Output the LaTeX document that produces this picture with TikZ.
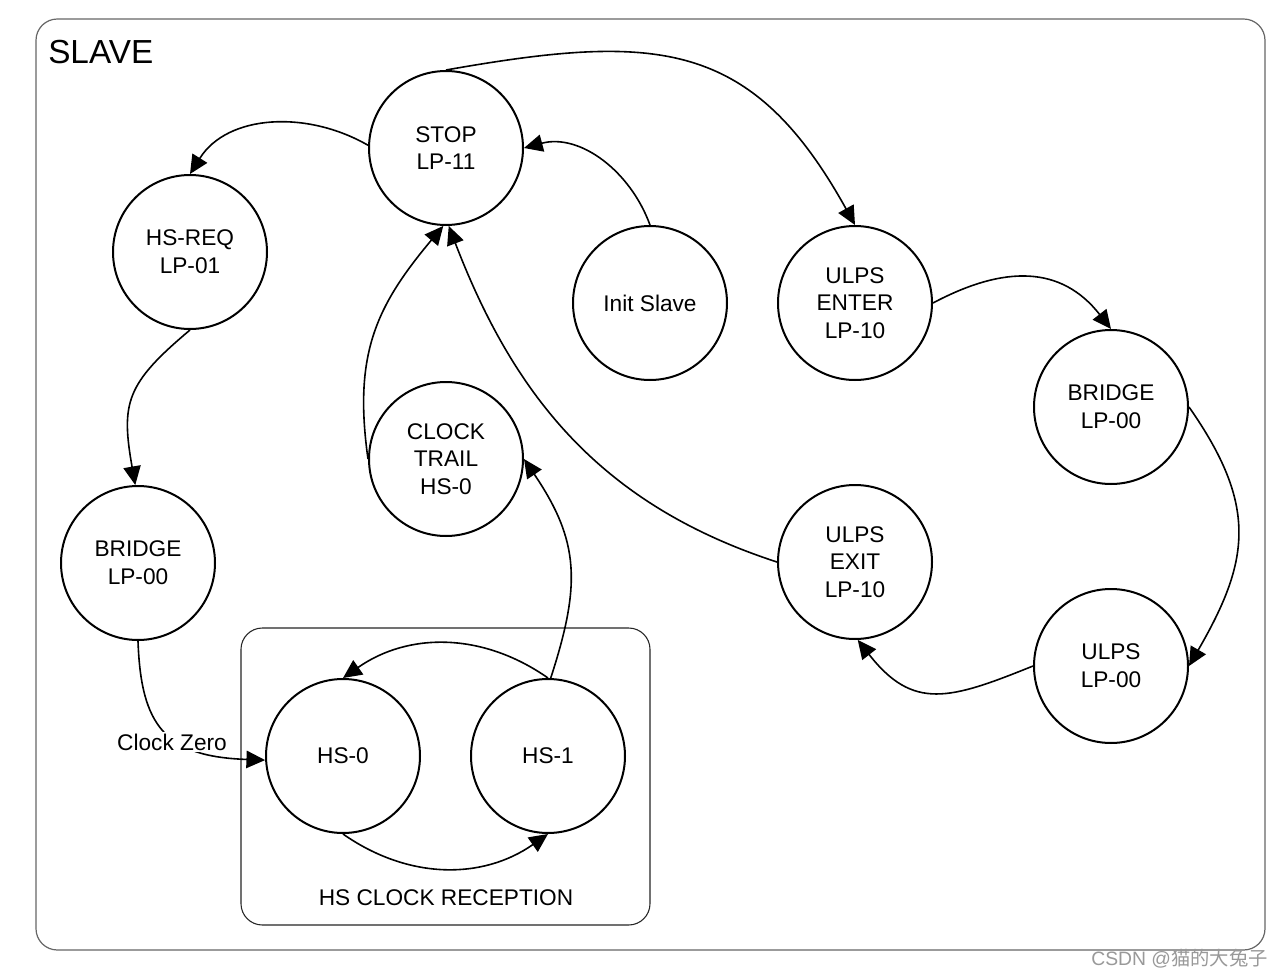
\documentclass[tikz,border=0pt]{standalone}
\usepackage{fontspec}
\setmainfont{Liberation Sans}
\newfontfamily\cjk{Noto Sans CJK SC}
\usetikzlibrary{arrows.meta}
\begin{document}
\begin{tikzpicture}[x=0.75pt,y=0.75pt,
  state/.style={draw, circle, line width=1.5pt, minimum size=115.5pt, inner sep=0pt, align=center, font=\fontsize{17}{20.8}\selectfont},
  trans/.style={line width=1.2pt, -{Triangle[length=14pt,width=13pt]}},
  lbl/.style={font=\fontsize{17}{20.8}\selectfont, inner sep=1pt},
  frame/.style={rounded corners=16pt}]
\useasboundingbox (0,0) rectangle (1283,-978);
\fill[white] (0,0) rectangle (1283,-978);
% outer frame
\draw[frame, black!60, line width=0.9pt] (36,-19) rectangle (1265,-950);
\node[anchor=base west, font=\fontsize{25}{30}\selectfont, inner sep=0pt] (slave) at (48,-63) {SLAVE};
% inner frame
\draw[frame, black!85, line width=0.8pt] (241,-628) rectangle (650,-925);
\node[lbl] (hsrec) at (446,-898) {HS CLOCK RECEPTION};

% states
\node[state] (stop)    at (446,-148) {STOP\\LP-11};
\node[state] (hsreq)   at (190,-252) {HS-REQ\\LP-01};
\node[state] (bridgeL) at (138,-563) {BRIDGE\\LP-00};
\node[state] (trail)   at (446,-459) {CLOCK\\TRAIL\\HS-0};
\node[state] (init)    at (650,-303) {Init Slave};
\node[state] (uenter)  at (855,-303) {ULPS\\ENTER\\LP-10};
\node[state] (bridgeR) at (1111,-407) {BRIDGE\\LP-00};
\node[state] (uexit)   at (855,-562) {ULPS\\EXIT\\LP-10};
\node[state] (ulps)    at (1111,-666) {ULPS\\LP-00};
\node[state] (hs0)     at (343,-756) {HS-0};
\node[state] (hs1)     at (548,-756) {HS-1};

% transitions
\draw[trans] (stop.178) to[out=150,in=58] (hsreq.north);
\draw[trans] (hsreq.south) to[out=-140,in=100,looseness=1.3] (bridgeL.92);
\draw[trans] (bridgeL.south) .. controls +(-88:85) and +(178:100) .. (hs0.183);
\node[lbl, fill=white] (cz) at (172,-742) {Clock Zero};
\draw[trans] (hs0.south) to[out=-35,in=-145] (hs1.south);
\draw[trans] (hs1.north) to[out=145,in=35] (hs0.north);
\draw[trans] (hs1.88) to[out=72,in=-56,looseness=1.15] (trail.east);
\draw[trans] (trail.west) to[out=98,in=-130,looseness=1.1] (stop.-92);
\draw[trans] (uexit.west) to[out=162,in=-69] (stop.-88);
\draw[trans] (init.north) to[out=110,in=15] (stop.east);
\draw[trans] (stop.north) to[out=10,in=119,looseness=1.25] (uenter.north);
\draw[trans] (uenter.east) to[out=28,in=128,looseness=1.15] (bridgeR.north);
\draw[trans] (bridgeR.east) to[out=-55,in=60,looseness=1.2] (ulps.east);
\draw[trans] (ulps.west) to[out=-158,in=-52,looseness=1.3] (uexit.-88);

% watermark
\node[anchor=east, text=black!40, font=\fontsize{14.5}{16}\selectfont, inner sep=0pt] (wm) at (1268,-959) {CSDN @{\cjk 猫的大兔子}};
\end{tikzpicture}
\end{document}
